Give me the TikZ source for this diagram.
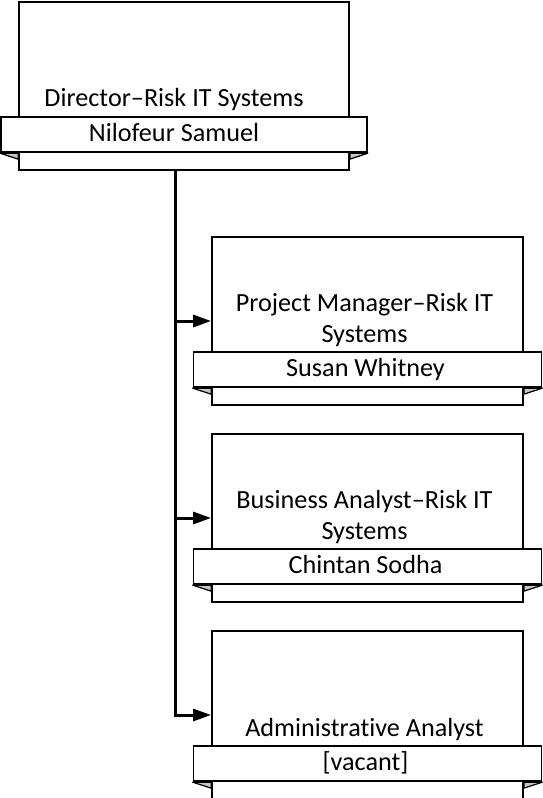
\documentclass[tikz,border=0pt]{standalone}
\usepackage{fontspec}
\setmainfont{Carlito}[Ligatures=NoCommon]
\usetikzlibrary{positioning,arrows.meta}

\tikzset{
  card/.style={draw, line width=1.8pt, fill=white, minimum width=#1,
    minimum height=168pt, inner sep=0pt},
  ribbon/.style={draw, line width=1.8pt, fill=white, minimum width=#1,
    minimum height=35.5pt, inner sep=0pt},
  label/.style={font=\fontsize{26.2}{31}\selectfont, align=center,
    anchor=base, inner sep=0pt},
  fold/.style={draw, line width=1.2pt, fill=gray!45, line join=round},
  link/.style={line width=3pt},
  tip/.style={-{Triangle[length=18pt,width=12pt]}, line width=3pt},
}

\begin{document}
\begin{tikzpicture}[x=1pt,y=-1pt]
  \useasboundingbox (0,0) rectangle (542,798);

  % director
  \node[card=330pt] (dir) at (184,86) {};
  \node[ribbon=366pt] (dirname) at (184,134.5) {};
  \node[label] (dirwho) at ([xshift=-10pt,yshift=-26pt]dirname.north) {Nilofeur Samuel};
  \node[label] (dirtitle) at ([xshift=-10pt,yshift=9pt]dirname.north) {Director–Risk IT Systems};
  \draw[fold] (dirname.south west) -- (dir.west |- dirname.south) -- ++(0,6) -- cycle;
  \draw[fold] (dirname.south east) -- (dir.east |- dirname.south) -- ++(0,6) -- cycle;

  % project manager
  \node[card=311pt] (pm) at (367.5,321) {};
  \node[ribbon=348pt] (pmname) at (367.5,369.5) {};
  \node[label] (pmwho) at ([xshift=-2pt,yshift=-26pt]pmname.north) {Susan Whitney};
  \node[label] (pmtitle) at ([xshift=-3pt,yshift=8pt]pmname.north) {Project Manager–Risk IT\\Systems};
  \draw[fold] (pmname.south west) -- (pm.west |- pmname.south) -- ++(0,6) -- cycle;
  \draw[fold] (pmname.south east) -- (pm.east |- pmname.south) -- ++(0,6) -- cycle;

  % business analyst
  \node[card=311pt] (ba) at (367.5,518) {};
  \node[ribbon=348pt] (baname) at (367.5,566.5) {};
  \node[label] (bawho) at ([xshift=-2pt,yshift=-26pt]baname.north) {Chintan Sodha};
  \node[label] (batitle) at ([xshift=-3pt,yshift=8pt]baname.north) {Business Analyst–Risk IT\\Systems};
  \draw[fold] (baname.south west) -- (ba.west |- baname.south) -- ++(0,6) -- cycle;
  \draw[fold] (baname.south east) -- (ba.east |- baname.south) -- ++(0,6) -- cycle;

  % administrative analyst
  \node[card=311pt] (aa) at (367.5,715) {};
  \node[ribbon=348pt] (aaname) at (367.5,763.5) {};
  \node[label] (aawho) at ([xshift=-2pt,yshift=-26pt]aaname.north) {[vacant]};
  \node[label] (aatitle) at ([xshift=-3pt,yshift=8pt]aaname.north) {Administrative Analyst};
  \draw[fold] (aaname.south west) -- (aa.west |- aaname.south) -- ++(0,6) -- cycle;
  \draw[fold] (aaname.south east) -- (aa.east |- aaname.south) -- ++(0,6) -- cycle;

  % reporting lines
  \coordinate (trunk) at ([xshift=-9pt]dir.south);
  \draw[link] (trunk) |- ([xshift=-17pt]aa.west);
  \draw[tip] (trunk |- pm.west) -- (pm.west);
  \draw[tip] (trunk |- ba.west) -- (ba.west);
  \draw[tip] (trunk |- aa.west) -- (aa.west);
\end{tikzpicture}
\end{document}
